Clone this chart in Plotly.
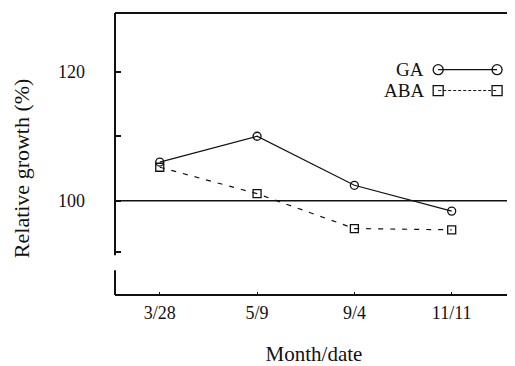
import plotly.graph_objects as go

dates = ["3/28", "5/9", "9/4", "11/11"]
ga_values = [106.0, 110.0, 102.4, 98.4]
aba_values = [105.2, 101.1, 95.7, 95.5]
y_tickvals = [120, 110, 100, 92]
y_ticktext = ["120", "", "100", ""]

FONT = "Liberation Serif"
INK = "#111111"

fig = go.Figure()

fig.add_trace(go.Scatter(
    x=dates, y=ga_values, mode="lines+markers", name="GA",
    line=dict(color=INK, width=1.2),
    marker=dict(symbol="circle-open", size=8, color=INK, line=dict(width=1.3)),
    showlegend=False, cliponaxis=False))
fig.add_trace(go.Scatter(
    x=dates, y=aba_values, mode="lines+markers", name="ABA",
    line=dict(color=INK, width=1.2, dash="5px,7px"),
    marker=dict(symbol="square-open", size=8, color=INK, line=dict(width=1.3)),
    showlegend=False, cliponaxis=False))

# legend samples on an auxiliary overlay axis (0..1 box)
fig.add_trace(go.Scatter(
    x=[0.812, 0.960], y=[0.799, 0.799], xaxis="x2", yaxis="y2", mode="lines+markers",
    line=dict(color=INK, width=1.2),
    marker=dict(symbol="circle-open", size=10, color=INK, line=dict(width=1.3)),
    showlegend=False, hoverinfo="skip", cliponaxis=False))
fig.add_trace(go.Scatter(
    x=[0.812, 0.960], y=[0.725, 0.725], xaxis="x2", yaxis="y2", mode="lines+markers",
    line=dict(color=INK, width=1.0, dash="3px,2px"),
    marker=dict(symbol="square-open", size=10, color=INK, line=dict(width=1.3)),
    showlegend=False, hoverinfo="skip", cliponaxis=False))

fig.add_annotation(x=0.782, y=0.799, xref="paper", yref="paper", text="GA",
                   showarrow=False, xanchor="right", yanchor="middle",
                   font=dict(family=FONT, size=19, color=INK))
fig.add_annotation(x=0.782, y=0.725, xref="paper", yref="paper", text="ABA",
                   showarrow=False, xanchor="right", yanchor="middle",
                   font=dict(family=FONT, size=19, color=INK))

# y-axis title placed as rotated text (sits a little below the plot centre)
fig.add_annotation(x=-0.236, y=0.45, xref="paper", yref="paper", text="Relative growth (%)",
                   textangle=-90, showarrow=False, xanchor="center", yanchor="middle",
                   font=dict(family=FONT, size=22, color=INK))

# frame pieces (broken left axis, partial right edge)
line_style = dict(color=INK, width=2)
fig.add_shape(type="line", xref="paper", yref="paper", x0=0, x1=0, y0=0.141, y1=1, line=line_style)
fig.add_shape(type="line", xref="paper", yref="paper", x0=0, x1=0, y0=0, y1=0.088, line=line_style)
fig.add_shape(type="line", xref="paper", yref="paper", x0=0, x1=1, y0=1, y1=1, line=line_style)
fig.add_shape(type="line", xref="paper", yref="paper", x0=0, x1=1, y0=0, y1=0, line=line_style)
fig.add_shape(type="line", xref="paper", yref="paper", x0=1, x1=1, y0=0.025, y1=0.183,
              line=dict(color=INK, width=1))
# reference line at 100
fig.add_shape(type="line", xref="paper", yref="y", x0=0, x1=1, y0=100, y1=100,
              line=dict(color=INK, width=1.6))

# the page body adds an 8px offset, so the figure is sized to fit the window
fig.update_layout(
    width=507, height=358,
    margin=dict(l=107, r=2, t=5, b=69),
    paper_bgcolor="white", plot_bgcolor="white",
    font=dict(family=FONT, color=INK),
    xaxis=dict(type="category", range=[-0.46, 3.63], showgrid=False, zeroline=False,
               showline=False, ticks="inside", ticklen=3, tickcolor=INK,
               ticklabelstandoff=5,
               tickfont=dict(family=FONT, size=18, color=INK),
               title=dict(text="Month/date", font=dict(family=FONT, size=21, color=INK), standoff=26)),
    yaxis=dict(range=[85.4, 129.1], showgrid=False, zeroline=False, showline=False,
               tickvals=y_tickvals, ticktext=y_ticktext, ticks="inside", ticklen=6,
               tickwidth=1.5, tickcolor=INK, ticklabelstandoff=29,
               tickfont=dict(family=FONT, size=18, color=INK)),
    xaxis2=dict(overlaying="x", range=[0, 1], visible=False),
    yaxis2=dict(overlaying="y", range=[0, 1], visible=False),
)

fig.write_html("out.html")
